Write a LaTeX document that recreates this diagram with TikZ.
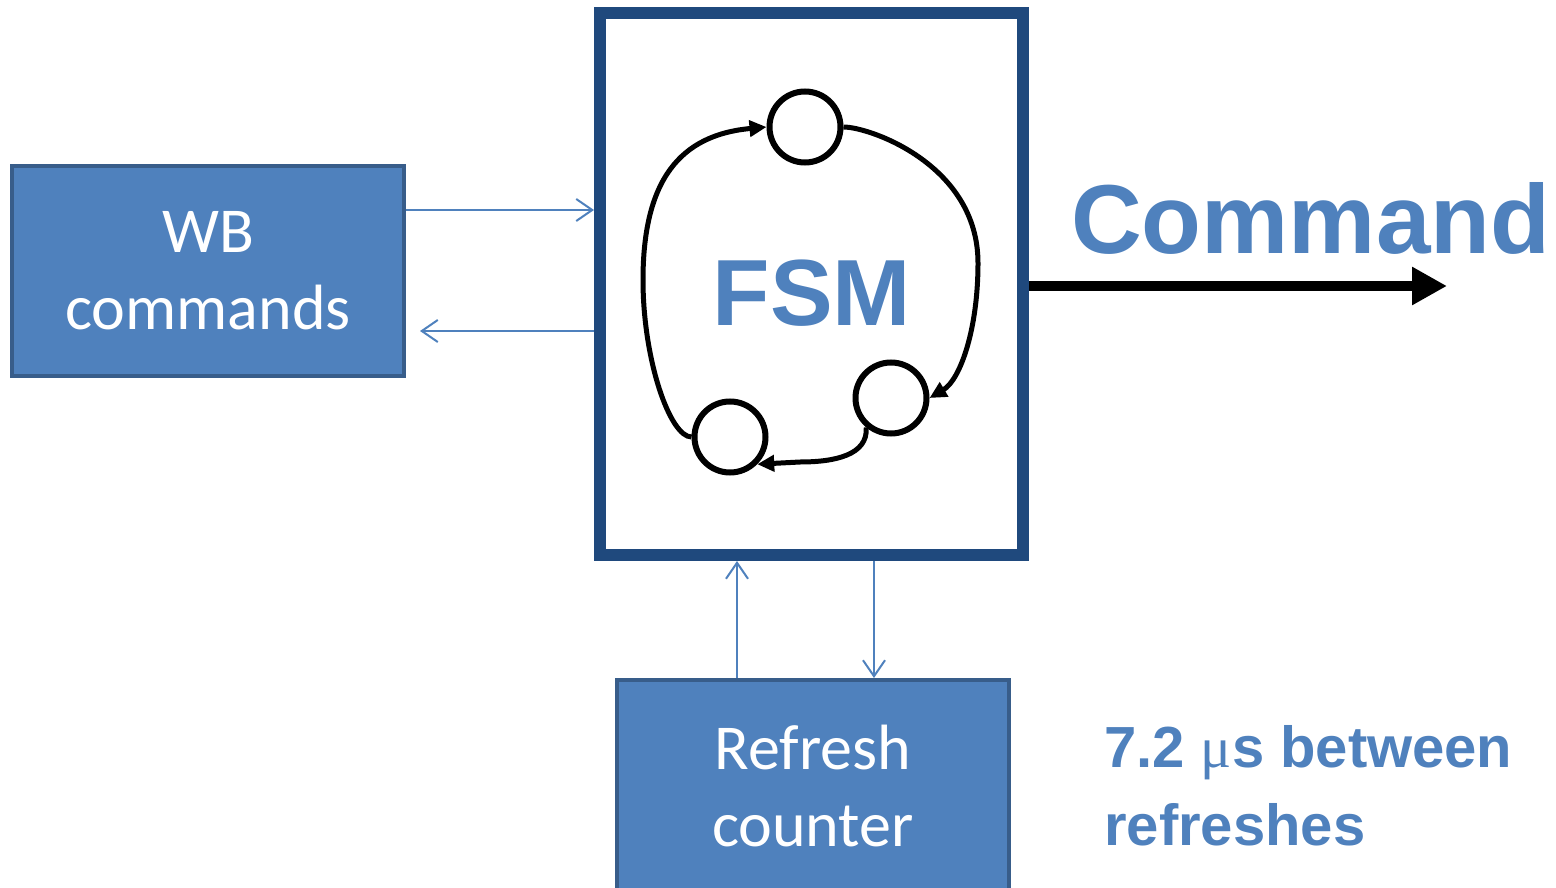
\documentclass[tikz,border=0pt]{standalone}
\usepackage{fontspec}
\setmainfont{Carlito}
\newfontfamily\headfont{Liberation Sans}
\newfontfamily\mufont{Liberation Serif}
\usetikzlibrary{arrows.meta}
\definecolor{boxfill}{HTML}{4F81BD}
\definecolor{boxline}{HTML}{385D8A}
\definecolor{fsmline}{HTML}{1F497D}
\definecolor{textblue}{HTML}{4F81BD}
\tikzset{
  bluebox/.style={draw=boxline, fill=boxfill, line width=4pt, text=white, align=center,
    font=\fontsize{64}{77}\selectfont, inner sep=0pt},
  fsmbox/.style={draw=fsmline, line width=12pt, inner sep=0pt},
  statecirc/.style={circle, draw=black, line width=6pt, minimum size=71pt, inner sep=0pt},
  fsmarrow/.style={draw=black, line width=5pt, -{Triangle[length=17pt,width=16pt]}},
  thinarrow/.style={draw=boxfill, line width=2pt, -{Straight Barb[length=16pt,width=22pt]}},
  bigarrow/.style={draw=black, line width=10pt, -{Triangle[length=35pt,width=36pt]}},
  headtext/.style={text=textblue, inner sep=0pt},
}
\begin{document}
\begin{tikzpicture}[x=1pt,y=-1pt]
\useasboundingbox (0,0) rectangle (1556,888);
% boxes
\node[bluebox, minimum width=392pt, minimum height=210pt] (wb) at (208,271) {WB\\commands};
\node[fsmbox, minimum width=423pt, minimum height=542pt] (fsm) at (811.5,284) {};
\node[bluebox, minimum width=392pt, minimum height=212pt] (rc) at (813,786) {Refresh\\counter};
% FSM label
\node[headtext, font=\headfont\bfseries\fontsize{94}{110}\selectfont, anchor=base] (fsmlabel) at (812,325) {FSM};
% states
\node[statecirc] (tc) at (805,127) {};
\node[statecirc] (sr) at (891,398) {};
\node[statecirc] (bc) at (730,437) {};
% transitions
\draw[fsmarrow] (bc.west) .. controls (670,437) and (643,360) .. (643,280)
   .. controls (643,180) and (680,135) .. (tc.west);
\draw[fsmarrow] (tc.east) .. controls (870,127) and (978,165) .. (978,263)
   .. controls (978,330) and (960,380) .. (sr.east);
\draw[fsmarrow] (sr.-130) .. controls (868,455) and (835,462) .. (800,462) -- (bc.-45);
% thin connectors
\coordinate (wbin) at (420,331);
\draw[thinarrow] (wb.east |- 0,210) -- (fsm.west |- 0,210);
\draw[thinarrow] (fsm.west |- 0,331) -- (wbin);
\draw[thinarrow] (rc.north -| 737,0) -- (fsm.south -| 737,0);
\draw[thinarrow] (fsm.south -| 874,0) -- (rc.north -| 874,0);
% command output
\coordinate (cmdend) at (1447,286);
\draw[bigarrow] (fsm.east |- 0,286) -- (cmdend);
\node[headtext, font=\headfont\bfseries\fontsize{98}{110}\selectfont, anchor=base west] (cmd) at (1071,253) {Command};
% refresh note
\node[headtext, font=\headfont\bfseries\fontsize{58}{77}\selectfont, anchor=base west] (note1) at (1104,767) {7.2 {\mufont\mdseries μ}s between};
\node[headtext, font=\headfont\bfseries\fontsize{58}{77}\selectfont, anchor=base west] (note2) at (1104,845) {refreshes};
\end{tikzpicture}
\end{document}
